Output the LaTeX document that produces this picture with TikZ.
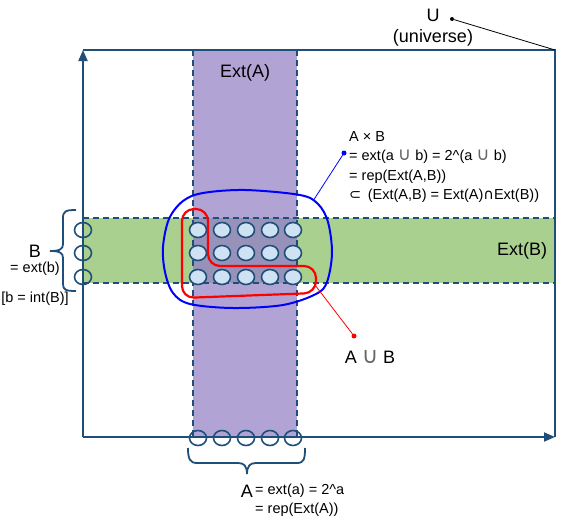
\documentclass[tikz,border=0pt]{standalone}
\usepackage{fontspec}
\setmainfont{Liberation Sans}
\newfontfamily\djvfont{DejaVu Sans}
\newfontfamily\djvbigfont[Scale=1.25]{DejaVu Sans}
\usepackage{tikz}
\usetikzlibrary{arrows.meta, shapes.geometric, positioning}

\definecolor{axisblue}{RGB}{31,78,121}
\definecolor{extapurple}{RGB}{177,164,212}
\definecolor{extbgreen}{RGB}{169,208,142}
\definecolor{overlapgray}{RGB}{151,146,186}
\definecolor{pointblue}{RGB}{207,226,243}

\newcommand{\uni}{{\djvbigfont\color{black!60}∪}}
\newcommand{\inter}{{\djvfont ∩}}
\newcommand{\subs}{{\djvfont ⊂}}

\tikzset{
  axis/.style={axisblue, line width=2pt},
  border/.style={axisblue, line width=1.5pt, dash pattern=on 6pt off 4pt},
  elem/.style={ellipse, draw=axisblue, line width=1.6pt, minimum width=17pt, minimum height=15pt, inner sep=0pt},
  bigtext/.style={font=\fontsize{18}{20}\selectfont},
  smalltext/.style={font=\fontsize{14.5}{19.5}\selectfont},
  dot/.style={circle, fill, inner sep=0pt, minimum size=5pt},
  bracket/.style={axisblue, line width=1.8pt},
}

\begin{document}
\begin{tikzpicture}[x=1pt, y=-1pt]
    \useasboundingbox (0,0) rectangle (574,522);
    % Ext(A) column, Ext(B) row and their overlap
    \fill[extapurple] (193,50) rectangle (297,437);
    \fill[extbgreen] (83,218) rectangle (555,283);
    \fill[overlapgray] (193,218) rectangle (297,283);
    \draw[border] (193,50) -- (193,437) (297,50) -- (297,437);
    \draw[border] (83,218) -- (555,218) (83,283) -- (555,283);
    % universe frame
    \coordinate (O) at (83,437);
    \coordinate (Y) at (83,50);
    \coordinate (X) at (555,437);
    \coordinate (UR) at (555,50);
    \draw[axis, -{Triangle[length=11pt,width=9pt]}] (O) -- (Y);
    \draw[axis, -{Triangle[length=11pt,width=9pt]}] (O) -- (X);
    \draw[axis] (Y) -- (UR) -- (X);
    % elements
    \foreach \x [count=\i] in {198,222,246,270,293} {
        \foreach \y [count=\j] in {230,253,277}
            \node[elem, fill=pointblue] (p\i\j) at (\x,\y) {};
        \node[elem] (a\i) at (\x,438) {};
    }
    \foreach \y [count=\j] in {230,253,277}
        \node[elem] (b\j) at (83,\y) {};
    % A x B and A u B
    \draw[blue, line width=2pt] plot[smooth cycle, tension=0.55] coordinates {(245,190) (300,195) (318,204) (328,222) (332,253) (327,282) (316,294) (283,305) (233,308) (190,304) (173,293) (165,272) (163,247) (169,219) (183,201) (203,193)};
    \draw[red, line width=2.2pt, rounded corners=12pt] (182,250) -- (182,209) -- (208,209) -- (208,266) -- (316,266) -- (316,293) -- (182,298) -- cycle;
    \coordinate (bluept) at (313,201);
    \coordinate (redpt) at (315,285);
    \node[dot, blue] (abdot) at (344,153) {};
    \node[dot, red] (uniondot) at (354,336) {};
    \node[dot, black, minimum size=4pt] (udot) at (452,19) {};
    \draw[blue, line width=0.8pt] (abdot) -- (bluept);
    \draw[red, line width=0.8pt] (uniondot) -- (redpt);
    \draw[black, line width=0.8pt] (udot) -- (UR);
    % braces
    \draw[bracket] (76,210) .. controls (66,210) and (63,211) .. (63,218) -- (63,244) .. controls (63,249) and (60,251) .. (50,251) .. controls (60,251) and (63,253) .. (63,258) -- (63,284) .. controls (63,290) and (66,291) .. (76,291);
    \draw[bracket] (188,448) .. controls (188,459) and (190,463) .. (197,463) -- (238,463) .. controls (244,463) and (247,466) .. (247,474) .. controls (247,466) and (250,463) .. (256,463) -- (297,463) .. controls (304,463) and (305,459) .. (305,448);
    % labels
    \node[bigtext] (extA) at (245,73) {Ext(A)};
    \node[bigtext] (extB) at (522,251) {Ext(B)};
    \node[bigtext] (U) at (433,15) {U};
    \node[bigtext] (universe) at (433,38) {(universe)};
    \node[smalltext, anchor=north west, align=left, inner sep=0pt] (AxB) at (349,131) {A × B\\= ext(a \uni{} b) = 2\textasciicircum(a \uni{} b)\\= rep(Ext(A,B))\\\subs{} \,(Ext(A,B) = Ext(A)\inter Ext(B))};
    \node[bigtext] (AuB) at (370,357) {A \uni{} B};
    \node[bigtext] (Blab) at (35,251) {B};
    \node[smalltext] (Bext) at (35,269) {= ext(b)};
    \node[smalltext] (Bint) at (35,299) {[b = int(B)]};
    \node[bigtext] (Alab) at (247,491) {A};
    \node[smalltext, anchor=west, align=left, inner sep=0pt] (Aext) at (255,500) {= ext(a) = 2\textasciicircum a\\= rep(Ext(A))};
\end{tikzpicture}
\end{document}
